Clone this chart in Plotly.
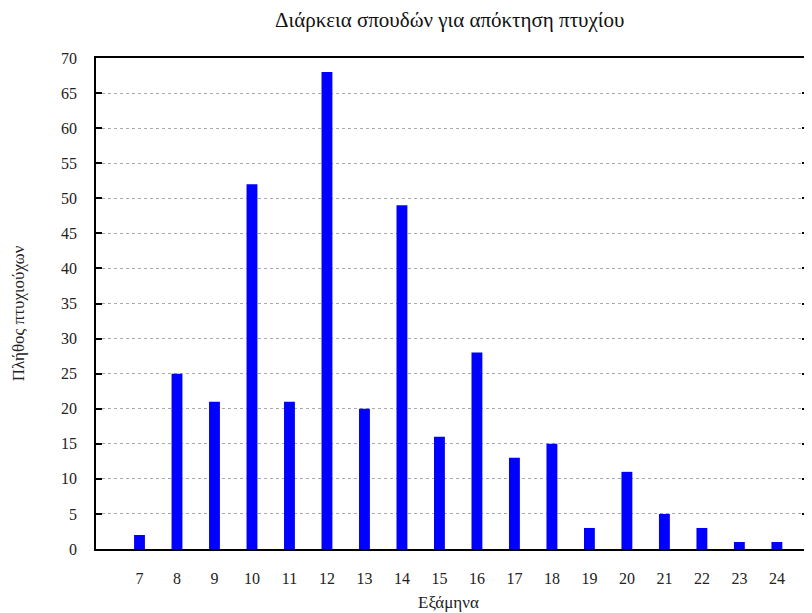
import plotly.graph_objects as go

semesters = [7, 8, 9, 10, 11, 12, 13, 14, 15, 16, 17, 18, 19, 20, 21, 22, 23, 24]
graduates = [2, 25, 21, 52, 21, 68, 20, 49, 16, 28, 13, 15, 3, 11, 5, 3, 1, 1]
y_ticks = list(range(0, 71, 5))

fig = go.Figure()
fig.add_trace(go.Bar(
    x=semesters, y=graduates,
    marker=dict(color="#0000ff", line=dict(width=0)),
    width=0.29,
))

font_family = "Liberation Serif, Times New Roman, serif"

fig.update_layout(
    width=804, height=605,
    margin=dict(l=88, r=2, t=50, b=64),
    plot_bgcolor="white", paper_bgcolor="white",
    font=dict(family=font_family, size=16, color="#222"),
    showlegend=False,
    annotations=[
        dict(text="Διάρκεια σπουδών για απόκτηση πτυχίου", xref="paper", yref="paper",
             x=0.496, y=1, yshift=38, showarrow=False, font=dict(size=21, color="#111"),
             yanchor="middle"),
        dict(text="Εξάμηνα", xref="paper", yref="paper", x=0.495, y=0, yshift=-53,
             showarrow=False, font=dict(size=17, color="#222"), yanchor="middle"),
        dict(text="Πλήθος πτυχιούχων", xref="paper", yref="paper", x=0, xshift=-78, y=0.48,
             textangle=-90, showarrow=False, font=dict(size=17, color="#222"), xanchor="center"),
    ],
)
fig.update_xaxes(
    range=[5.84, 24.83], tickvals=semesters, ticktext=[str(s) for s in semesters],
    showline=True, linecolor="black", linewidth=1.5, mirror=True,
    ticks="", showgrid=False, zeroline=False, ticklabelstandoff=14,
)
fig.update_yaxes(
    range=[0, 70], tickvals=y_ticks,
    showline=True, linecolor="black", linewidth=1.5, mirror="allticks",
    ticks="inside", ticklen=6, tickcolor="black", tickwidth=1.5,
    showgrid=True, gridcolor="#aaaaaa", griddash="dot", gridwidth=1,
    zeroline=False, ticklabelstandoff=14,
)

fig.write_html("out.html")
